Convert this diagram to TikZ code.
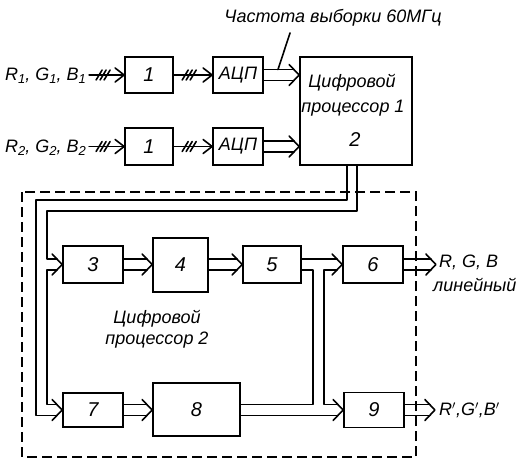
\documentclass[tikz,border=0pt]{standalone}
\usepackage{fontspec}
\setmainfont{Liberation Sans}
\usetikzlibrary{calc}
\newcommand\chev[1]{\draw[ln] ($#1+(-9,-7)$) -- #1 -- ($#1+(-9,7)$);}
\newcommand\dchev[1]{\draw[ln] ($#1+(-10,-10.5)$) -- #1 -- ($#1+(-10,10.5)$);}
\newcommand\tickmarks[1]{\foreach \d in {-4,0,4} \draw[ln] ($#1+(\d-3,5)$) -- ($#1+(\d+3,-5)$);}
\newcommand\hatcharrow[2]{\draw[ln] #1 -- #2; \tickmarks{($#1!0.4!#2$)} \chev{#2}}
\newcommand\darrow[2]{%
  \draw[ln] ($#1+(0,-5.5)$) -- ($#2+(-5,-5.5)$);
  \draw[ln] ($#1+(0,5.5)$) -- ($#2+(-5,5.5)$);
  \dchev{#2}}
\newcommand\sub[1]{\raisebox{-0.35ex}{\fontsize{13}{13}\selectfont #1}}
\begin{document}
\begin{tikzpicture}[x=1pt,y=-1pt,
  ln/.style={line width=1.6pt, line cap=round, line join=round},
  blk/.style={draw, line width=1.8pt, inner sep=0pt, font=\itshape\fontsize{20}{22}\selectfont},
  txt/.style={font=\itshape\fontsize{18}{21}\selectfont, inner sep=0pt}]
\useasboundingbox (0,0) rectangle (517,461);
% dashed frame
\draw[line width=1.3pt, dash pattern=on 10pt off 5pt] (22,192) rectangle (416,457);
% boxes
\node[blk, minimum width=48pt, minimum height=36pt] (b1a) at (149,75) {1};
\node[blk, minimum width=50pt, minimum height=36pt, font=\itshape\fontsize{18}{20}\selectfont] (adc1) at (238,75) {АЦП};
\node[blk, minimum width=48pt, minimum height=37pt] (b1b) at (149,146.5) {1};
\node[blk, minimum width=50pt, minimum height=37pt, font=\itshape\fontsize{18}{20}\selectfont] (adc2) at (238,146.5) {АЦП};
\node[blk, minimum width=112pt, minimum height=108pt] (p1) at (356,111) {};
\node[txt] (p1t) at (352,83) {Цифровой};
\node[txt] (p1u) at (353,108) {процессор 1};
\node[txt, font=\itshape\fontsize{20}{22}\selectfont] (p1v) at (355,140) {2};
\node[blk, minimum width=60pt, minimum height=37pt] (b3) at (93,264.5) {3};
\node[blk, minimum width=55pt, minimum height=54pt] (b4) at (180.5,265) {4};
\node[blk, minimum width=58pt, minimum height=37pt] (b5) at (272,264.5) {5};
\node[blk, minimum width=60pt, minimum height=37pt] (b6) at (373,264.5) {6};
\node[blk, minimum width=60pt, minimum height=34pt] (b7) at (93,410) {7};
\node[blk, minimum width=87pt, minimum height=53pt] (b8) at (196.5,409.5) {8};
\node[blk, minimum width=60pt, minimum height=35pt] (b9) at (374,410) {9};
% labels
\node[txt, anchor=east] (lr1) at (86,76) {R\sub{1}, G\sub{1}, B\sub{1}};
\node[txt, anchor=east] (lr2) at (86,148) {R\sub{2}, G\sub{2}, B\sub{2}};
\node[txt] (freq) at (333,18) {Частота выборки 60МГц};
\node[txt, align=center] (p2) at (157,329) {Цифровой\\процессор 2};
\node[txt, anchor=west] (o1) at (439,262) {R, G, B};
\node[txt, anchor=west] (o1b) at (433,285) {линейный};
\node[txt, anchor=west] (o2) at (439,410) {R$'$,G$'$,B$'$};
% hatched arrows
\hatcharrow{($(b1a.west)+(-35,0)$)}{(b1a.west)}
\hatcharrow{(b1a.east)}{(adc1.west)}
\hatcharrow{($(b1b.west)+(-35,0)$)}{(b1b.west)}
\hatcharrow{(b1b.east)}{(adc2.west)}
% double arrows to processor 1
\darrow{(adc1.east)}{(adc1.east -| p1.west)}
\darrow{(adc2.east)}{(adc2.east -| p1.west)}
\draw[ln] (290,33) -- (278,69.5);
% bus from processor 1
\coordinate (pa) at ($(p1.south)+(-9,0)$);
\coordinate (pb) at ($(p1.south)+(1,0)$);
\draw[ln] (pa) -- (pa |- 0,200) -- (36,200) -- (36,415.5) -- ($(b7.west)+(-5,5.5)$);
\draw[ln] (pb) -- (pb |- 0,211) -- (47,211) -- (47,259) -- ($(b3.west)+(-5,-5.5)$);
\draw[ln] ($(b3.west)+(-5,5.5)$) -- (47,270) -- (47,404.5) -- ($(b7.west)+(-5,-5.5)$);
\dchev{(b3.west)}
\dchev{(b7.west)}
% chain
\darrow{(b3.east)}{(b4.west |- b3.east)}
\darrow{(b4.east |- b5.west)}{(b5.west)}
\darrow{(b7.east)}{(b8.west |- b7.east)}
% 5 -> 6 and 9, 8 -> 9
\draw[ln] ($(b5.east)+(0,-5.5)$) -- ($(b6.west)+(-5,-5.5)$);
\draw[ln] ($(b5.east)+(0,5.5)$) -- (313,270) -- (313,404.5) -- (b8.east |- 0,404.5);
\draw[ln] ($(b6.west)+(-5,5.5)$) -- (324,270) -- (324,404.5) -- ($(b9.west)+(-5,-5.5)$);
\draw[ln] (b8.east |- 0,415.5) -- ($(b9.west)+(-5,5.5)$);
\dchev{(b6.west)}
\dchev{(b9.west)}
% outputs
\darrow{(b6.east)}{($(b6.east)+(32,0)$)}
\darrow{(b9.east)}{($(b9.east)+(30,0)$)}
\end{tikzpicture}
\end{document}
